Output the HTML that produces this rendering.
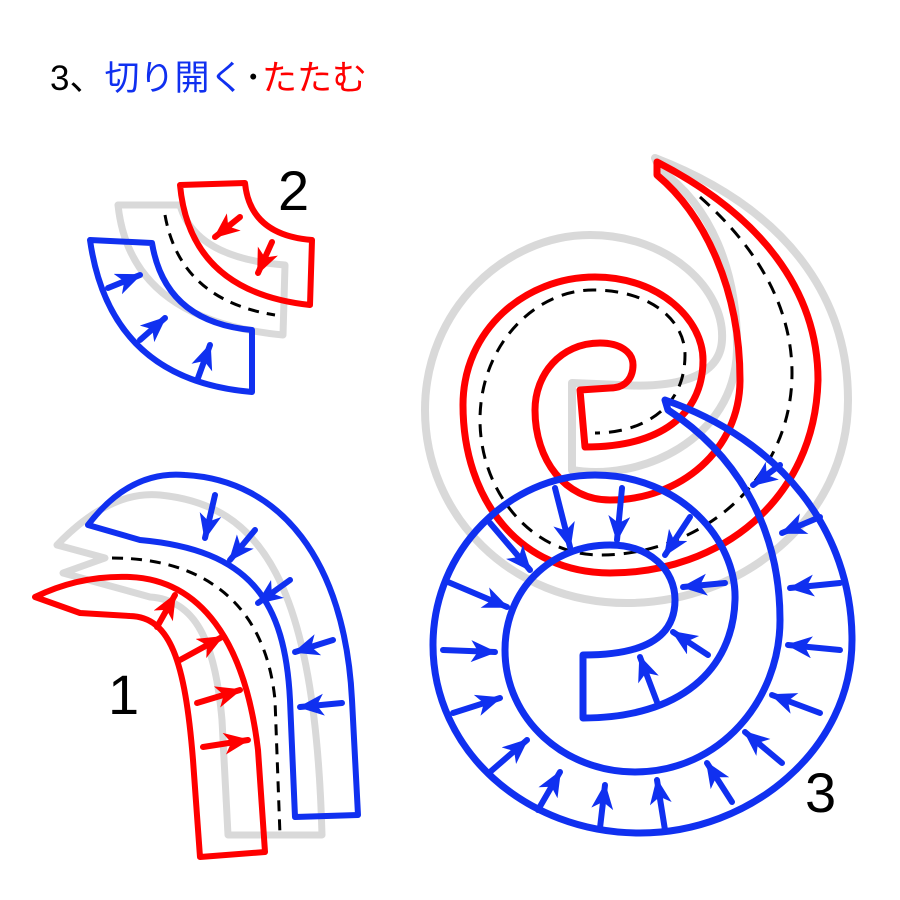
<!DOCTYPE html>
<html><head><meta charset="utf-8"><style>
html,body{margin:0;padding:0;background:#fff;width:900px;height:900px;overflow:hidden}
svg{display:block}
</style></head><body>
<svg width="900" height="900" viewBox="0 0 900 900" xmlns="http://www.w3.org/2000/svg">
<defs>
<marker id="ab" markerUnits="userSpaceOnUse" markerWidth="28" markerHeight="24" refX="24" refY="11" orient="auto"><path d="M0,0 L26,11 L0,22 L7,11 Z" fill="#1030f0"/></marker>
<marker id="ar" markerUnits="userSpaceOnUse" markerWidth="28" markerHeight="24" refX="24" refY="11" orient="auto"><path d="M0,0 L26,11 L0,22 L7,11 Z" fill="#ff0000"/></marker>
</defs>
<text x="50" y="90" font-family="Liberation Sans, Noto Sans CJK JP, sans-serif" font-size="35"><tspan fill="#000">3、</tspan><tspan fill="#1030f0">切り開く</tspan><tspan fill="#000">･</tspan><tspan fill="#ff0000">たたむ</tspan></text>

<g fill="none" stroke-linejoin="round" stroke-linecap="round">
<!-- fig 1 -->
<path d="M57,545 Q110,490 160,495 C260,505 315,580 322,835 L228,835 L222,720 C215,640 195,600 150,597 L63,573 L105,558 Z" stroke="#d9d9d9" stroke-width="7"/>
<path d="M88,525 Q130,470 185,475 C280,480 345,560 352,700 L358,815 L295,817 L290,700 C285,600 250,550 140,540 Z" stroke="#1030f0" stroke-width="6"/>
<path d="M35,597 Q80,575 130,577 C200,580 245,640 258,750 L265,852 L200,857 L193,760 C185,660 170,617 130,616 L80,613 Z" stroke="#ff0000" stroke-width="6"/>
<path d="M112,558 C200,558 265,600 275,700 L280,835" stroke="#000" stroke-width="3" stroke-dasharray="11,8" stroke-linecap="butt"/>

<!-- fig 2 -->
<path d="M118,205 L180,205 Q195,258 285,265 L283,335 Q130,320 118,205 Z" stroke="#d9d9d9" stroke-width="7"/>
<path d="M90,240 L152,243 Q165,322 252,330 L252,392 Q110,380 90,240 Z" stroke="#1030f0" stroke-width="6"/>
<path d="M180,185 L245,183 Q250,235 312,240 L310,305 Q190,292 180,185 Z" stroke="#ff0000" stroke-width="6"/>
<path d="M165,215 Q180,300 275,315" stroke="#000" stroke-width="3" stroke-dasharray="11,8" stroke-linecap="butt"/>

<!-- fig 3 gray -->
<path d="M655,158 C790,210 848,300 848,400 C848,520 740,603 627,603 C510,603 425,515 425,410 C425,310 505,235 590,235 C670,235 725,290 722,340 C720,380 670,388 620,385 L572,383 L572,470 C640,482 735,440 737,350 C738,270 710,205 660,170 Z" stroke="#d9d9d9" stroke-width="8"/>
<!-- red spiral -->
<path d="M657,162 C760,215 818,290 818,380 C815,500 720,573 610,573 C520,573 463,500 463,405 C463,330 525,277 595,277 C660,277 703,320 703,360 C703,415 660,447 585,447 L580,390 L610,388 C628,388 633,375 633,365 C633,352 620,343 600,343 C560,343 535,375 535,410 C535,460 565,500 610,500 C680,500 740,450 740,380 C740,290 705,215 657,175 Z" stroke="#ff0000" stroke-width="7"/>
<path d="M700,197 C760,250 792,310 792,373 C792,480 700,555 600,555 C530,555 480,490 480,420 C480,345 535,290 593,290 C650,290 685,320 685,355 C685,410 640,433 595,433" stroke="#000" stroke-width="3" stroke-dasharray="13,9" stroke-linecap="butt"/>
<!-- blue spiral -->
<path d="M665,400 C780,440 852,530 852,640 C852,750 750,833 640,833 C525,833 433,750 433,645 C433,550 510,475 595,475 C680,475 737,540 735,600 C733,670 680,718 583,718 L583,655 C640,655 675,640 675,600 C675,570 650,545 610,545 C550,545 505,590 505,650 C505,720 565,772 635,772 C720,772 780,700 780,620 C780,520 730,450 668,410 Z" stroke="#1030f0" stroke-width="7"/>
</g>

<g stroke-width="6" stroke-linecap="round" stroke="#1030f0">
<line x1="215" y1="495" x2="205" y2="538" marker-end="url(#ab)"/>
<line x1="255" y1="530" x2="230" y2="560" marker-end="url(#ab)"/>
<line x1="290" y1="580" x2="258" y2="603" marker-end="url(#ab)"/>
<line x1="333" y1="640" x2="295" y2="652" marker-end="url(#ab)"/>
<line x1="342" y1="703" x2="300" y2="707" marker-end="url(#ab)"/>
<line x1="108" y1="288" x2="140" y2="275" marker-end="url(#ab)"/>
<line x1="140" y1="340" x2="165" y2="318" marker-end="url(#ab)"/>
<line x1="198" y1="378" x2="210" y2="345" marker-end="url(#ab)"/>
<line x1="780" y1="465" x2="753" y2="485" marker-end="url(#ab)"/>
<line x1="820" y1="517" x2="782" y2="533" marker-end="url(#ab)"/>
<line x1="840" y1="583" x2="790" y2="588" marker-end="url(#ab)"/>
<line x1="840" y1="650" x2="788" y2="645" marker-end="url(#ab)"/>
<line x1="820" y1="713" x2="772" y2="695" marker-end="url(#ab)"/>
<line x1="782" y1="763" x2="745" y2="732" marker-end="url(#ab)"/>
<line x1="732" y1="802" x2="707" y2="763" marker-end="url(#ab)"/>
<line x1="665" y1="830" x2="657" y2="780" marker-end="url(#ab)"/>
<line x1="600" y1="828" x2="605" y2="785" marker-end="url(#ab)"/>
<line x1="538" y1="810" x2="560" y2="772" marker-end="url(#ab)"/>
<line x1="490" y1="772" x2="527" y2="740" marker-end="url(#ab)"/>
<line x1="453" y1="713" x2="500" y2="698" marker-end="url(#ab)"/>
<line x1="443" y1="650" x2="495" y2="652" marker-end="url(#ab)"/>
<line x1="448" y1="582" x2="507" y2="607" marker-end="url(#ab)"/>
<line x1="490" y1="523" x2="530" y2="570" marker-end="url(#ab)"/>
<line x1="555" y1="488" x2="570" y2="547" marker-end="url(#ab)"/>
<line x1="622" y1="488" x2="617" y2="540" marker-end="url(#ab)"/>
<line x1="690" y1="517" x2="665" y2="555" marker-end="url(#ab)"/>
<line x1="725" y1="583" x2="683" y2="587" marker-end="url(#ab)"/>
<line x1="708" y1="655" x2="673" y2="632" marker-end="url(#ab)"/>
<line x1="657" y1="702" x2="640" y2="657" marker-end="url(#ab)"/>
</g>
<g stroke-width="6" stroke-linecap="round" stroke="#ff0000">
<line x1="157" y1="627" x2="175" y2="595" marker-end="url(#ar)"/>
<line x1="180" y1="660" x2="222" y2="637" marker-end="url(#ar)"/>
<line x1="197" y1="703" x2="240" y2="690" marker-end="url(#ar)"/>
<line x1="203" y1="747" x2="248" y2="740" marker-end="url(#ar)"/>
<line x1="240" y1="217" x2="215" y2="237" marker-end="url(#ar)"/>
<line x1="272" y1="242" x2="258" y2="273" marker-end="url(#ar)"/>
</g>

<g font-family="Liberation Sans, sans-serif" font-size="56" fill="#000">
<text x="278" y="210">2</text>
<text x="108" y="714">1</text>
<text x="805" y="812">3</text>
</g>
</svg>
</body></html>
